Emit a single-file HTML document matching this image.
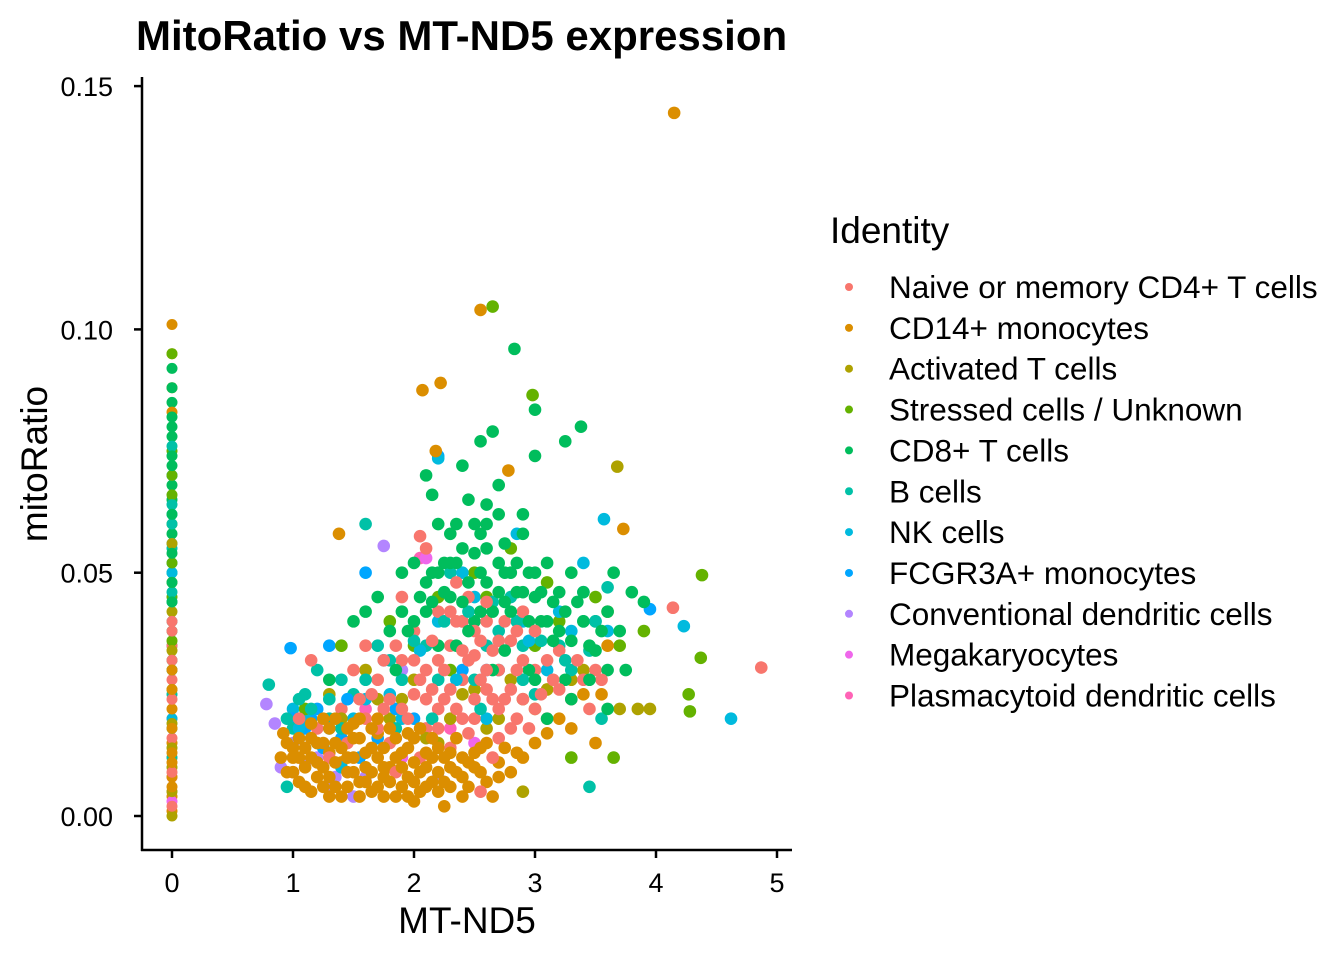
<!DOCTYPE html>
<html><head><meta charset="utf-8"><style>
body{margin:0;background:#fff;}
svg{display:block;font-family:"Liberation Sans",Arial,sans-serif;}
</style></head><body>
<svg id="chart" width="1344" height="960"></svg>
<script>
const categories=["Naive or memory CD4+ T cells","CD14+ monocytes","Activated T cells","Stressed cells / Unknown","CD8+ T cells","B cells","NK cells","FCGR3A+ monocytes","Conventional dendritic cells","Megakaryocytes","Plasmacytoid dendritic cells"];
const colors=["#F8766D","#DB8E00","#AEA200","#64B200","#00BD5C","#00C1A7","#00BADE","#00A6FF","#B385FF","#EF67EB","#FF63B6"];
const xTicks=[0,1,2,3,4,5];
const yTicks=[0,0.05,0.10,0.15];
const yTickLabels=["0.00","0.05","0.10","0.15"];
const naive=[[0,0.012],[0,0.02],[0,0.028],[0,0.005],[0,0.035],[0,0.016],[0,0.002],[0,0.009],[0,0.024],[0,0.032],[0,0.038],[0,0.04],[1.2,0.018],[1.4,0.022],[1.6,0.02],[1.7,0.028],[1.8,0.015],[1.9,0.032],[2.0,0.025],[2.0,0.038],[2.1,0.018],[2.1,0.03],[2.2,0.042],[2.2,0.022],[2.3,0.035],[2.3,0.014],[2.4,0.028],[2.4,0.04],[2.5,0.02],[2.5,0.033],[2.6,0.026],[2.6,0.04],[2.7,0.03],[2.7,0.016],[2.8,0.036],[2.9,0.024],[3.0,0.03],[3.1,0.02],[3.2,0.034],[3.4,0.028],[3.5,0.03],[1.5,0.03],[1.9,0.045],[2.1,0.055],[2.05,0.0575],[2.55,0.005],[4.14,0.0428],[4.87,0.0305],[1.15,0.032],[2.35,0.048],[2.9,0.042],[1.85,0.009],[1.3,0.012],[1.6,0.035],[1.75,0.022],[1.95,0.02],[2.05,0.012],[2.15,0.026],[2.25,0.03],[2.35,0.022],[2.45,0.017],[2.55,0.036],[2.65,0.012],[2.75,0.024],[2.85,0.03],[2.95,0.018],[3.05,0.025],[3.3,0.024],[1.45,0.015],[1.05,0.02],[2.45,0.045],[2.75,0.04],[1.65,0.025],[1.85,0.035],[2.15,0.036],[2.55,0.028],[2.85,0.02],[3.15,0.028],[2.35,0.04],[2.65,0.034],[1.7,0.018],[1.8,0.024],[1.9,0.022],[2.0,0.032],[2.1,0.024],[2.2,0.018],[2.2,0.032],[2.3,0.026],[2.4,0.02],[2.4,0.034],[2.5,0.024],[2.5,0.038],[2.6,0.03],[2.7,0.022],[2.7,0.036],[2.8,0.026],[2.8,0.018],[2.9,0.032],[3.0,0.022],[3.0,0.038],[3.1,0.032],[3.2,0.026],[2.05,0.028],[2.25,0.024],[2.45,0.032],[2.65,0.024],[2.85,0.038],[1.55,0.024],[1.75,0.032],[2.3,0.042],[2.6,0.044],[3.35,0.032],[3.45,0.022],[3.55,0.028]];
const cd14=[[0,0.001],[0,0.004],[0,0.008],[0,0.015],[0,0.022],[0,0.088],[0,0.095],[0,0.101],[0,0.083],[0,0.006],[0,0.011],[0,0.013],[0,0.018],[0,0.026],[0,0.03],[0.95,0.015],[1.0,0.012],[1.1,0.01],[1.15,0.016],[1.2,0.008],[1.3,0.013],[1.35,0.006],[1.4,0.011],[1.5,0.009],[1.55,0.016],[1.6,0.007],[1.7,0.012],[1.75,0.004],[1.8,0.01],[1.9,0.006],[1.95,0.014],[2.0,0.003],[2.05,0.009],[2.15,0.012],[2.2,0.005],[2.25,0.002],[2.3,0.01],[2.4,0.008],[2.5,0.013],[2.6,0.007],[2.7,0.011],[2.8,0.009],[3.0,0.015],[3.2,0.02],[3.4,0.025],[3.6,0.035],[3.73,0.059],[1.38,0.058],[2.07,0.0875],[2.22,0.089],[2.55,0.104],[4.15,0.1445],[2.78,0.071],[2.18,0.075],[1.25,0.02],[1.45,0.018],[1.65,0.014],[2.35,0.016],[2.65,0.004],[1.05,0.007],[3.3,0.018],[1.1,0.014],[1.3,0.018],[1.5,0.012],[1.7,0.017],[1.85,0.012],[2.0,0.016],[2.1,0.006],[2.3,0.006],[2.45,0.011],[2.55,0.009],[2.75,0.014],[2.9,0.012],[3.1,0.017],[1.25,0.006],[0.9,0.012],[1.0,0.009],[1.15,0.005],[1.35,0.015],[1.45,0.006],[1.55,0.02],[1.6,0.01],[1.75,0.008],[1.8,0.018],[1.9,0.01],[2.0,0.007],[2.1,0.013],[2.2,0.009],[2.4,0.004],[2.6,0.015],[1.4,0.004],[1.65,0.005],[1.95,0.004],[2.25,0.012],[1.2,0.011],[1.05,0.016],[3.5,0.015],[3.55,0.025],[0.95,0.009],[1.05,0.012],[1.1,0.006],[1.15,0.012],[1.2,0.015],[1.25,0.01],[1.3,0.008],[1.35,0.011],[1.4,0.014],[1.45,0.009],[1.5,0.016],[1.55,0.007],[1.6,0.013],[1.65,0.009],[1.7,0.006],[1.75,0.014],[1.8,0.007],[1.85,0.016],[1.9,0.013],[1.95,0.008],[2.0,0.011],[2.05,0.005],[2.1,0.01],[2.15,0.007],[2.2,0.014],[2.25,0.007],[2.3,0.013],[2.35,0.009],[2.4,0.012],[2.45,0.006],[2.5,0.01],[2.55,0.014],[2.7,0.008],[2.85,0.013],[1.15,0.019],[1.35,0.02],[1.5,0.019],[1.7,0.02],[1.25,0.015],[1.45,0.012],[1.65,0.018],[1.55,0.004],[1.85,0.004],[2.05,0.018],[1.0,0.014],[0.92,0.017],[1.3,0.004],[1.75,0.01],[2.15,0.016],[1.95,0.017]];
const activated=[[0,0.01],[0,0.03],[0,0.0],[0,0.042],[0,0.005],[0,0.014],[0,0.019],[0,0.034],[0,0.048],[0,0.056],[1.3,0.025],[1.8,0.02],[2.2,0.015],[2.6,0.018],[3.0,0.022],[3.4,0.03],[3.7,0.022],[3.85,0.022],[3.95,0.022],[3.68,0.0718],[2.9,0.005],[1.6,0.03],[2.4,0.025],[3.6,0.042],[2.0,0.028],[2.8,0.028],[1.4,0.02],[1.9,0.024],[2.3,0.02],[2.5,0.026],[2.7,0.02],[2.9,0.024],[3.1,0.026],[3.3,0.028],[2.1,0.016],[1.7,0.024]];
const stressed=[[0,0.045],[0,0.06],[0,0.075],[0,0.026],[0,0.036],[0,0.052],[0,0.066],[0,0.07],[0,0.095],[1.4,0.035],[1.8,0.04],[2.2,0.045],[2.5,0.05],[2.65,0.1047],[2.98,0.0865],[3.2,0.04],[3.5,0.045],[3.7,0.035],[4.38,0.0495],[4.37,0.0325],[4.27,0.025],[4.28,0.0215],[2.8,0.055],[3.0,0.035],[2.3,0.03],[1.1,0.022],[3.9,0.038],[2.0,0.035],[3.3,0.012],[3.65,0.012],[2.6,0.045],[3.1,0.048]];
const cd8=[[0,0.05],[0,0.065],[0,0.078],[0,0.085],[0,0.058],[0,0.068],[0,0.032],[0,0.038],[0,0.044],[0,0.048],[0,0.054],[0,0.062],[0,0.072],[0,0.074],[0,0.08],[0,0.082],[0,0.088],[0,0.092],[1.7,0.045],[1.9,0.05],[2.0,0.04],[2.1,0.048],[2.2,0.06],[2.25,0.052],[2.3,0.045],[2.4,0.055],[2.45,0.065],[2.5,0.04],[2.55,0.058],[2.6,0.048],[2.7,0.062],[2.75,0.044],[2.8,0.05],[2.83,0.096],[2.9,0.058],[3.0,0.0835],[3.0,0.045],[3.1,0.052],[3.2,0.046],[3.3,0.05],[3.38,0.08],[3.5,0.04],[3.7,0.038],[2.35,0.035],[2.65,0.03],[2.95,0.03],[3.25,0.028],[1.5,0.04],[1.3,0.028],[2.15,0.066],[2.55,0.077],[2.65,0.079],[3.0,0.074],[3.25,0.077],[2.1,0.07],[2.4,0.072],[3.1,0.02],[2.7,0.068],[1.95,0.038],[2.05,0.045],[2.3,0.058],[2.45,0.048],[2.55,0.042],[2.7,0.052],[2.85,0.046],[2.95,0.05],[3.05,0.04],[3.15,0.036],[3.35,0.044],[3.45,0.035],[3.6,0.03],[3.75,0.03],[2.2,0.035],[2.6,0.055],[1.6,0.042],[2.35,0.052],[2.5,0.06],[2.75,0.056],[3.4,0.046],[2.15,0.05],[1.85,0.03],[2.0,0.052],[2.1,0.042],[2.2,0.05],[2.25,0.046],[2.3,0.052],[2.35,0.06],[2.4,0.044],[2.5,0.054],[2.55,0.05],[2.6,0.06],[2.65,0.042],[2.7,0.046],[2.75,0.05],[2.8,0.042],[2.85,0.052],[2.9,0.046],[2.95,0.04],[3.0,0.05],[3.05,0.046],[3.1,0.04],[3.15,0.044],[3.2,0.038],[3.25,0.042],[3.3,0.036],[3.4,0.04],[3.5,0.034],[3.55,0.038],[3.6,0.042],[2.45,0.038],[2.15,0.044],[1.8,0.038],[1.9,0.042],[2.75,0.034],[3.0,0.028],[3.3,0.024],[3.45,0.028],[3.6,0.022],[2.6,0.064],[2.9,0.062],[3.65,0.05],[3.8,0.046],[3.9,0.044]];
const bcells=[[0,0.04],[0,0.055],[0,0.07],[0,0.025],[0,0.012],[0,0.018],[0,0.03],[0,0.046],[0,0.06],[0,0.064],[0,0.076],[0.8,0.027],[0.95,0.02],[1.1,0.025],[1.3,0.02],[1.5,0.025],[1.6,0.06],[1.7,0.035],[1.9,0.028],[2.1,0.035],[2.3,0.05],[2.4,0.04],[2.6,0.035],[2.8,0.045],[3.0,0.025],[3.2,0.035],[3.4,0.04],[3.45,0.006],[0.95,0.006],[2.5,0.028],[2.9,0.035],[1.2,0.03],[3.6,0.047],[1.0,0.018],[1.4,0.028],[1.85,0.018],[2.2,0.028],[2.7,0.038],[3.3,0.03],[1.15,0.022],[1.3,0.024],[1.6,0.028],[1.8,0.032],[2.0,0.036],[2.25,0.04],[2.45,0.042],[2.65,0.044],[2.85,0.04],[3.05,0.036],[3.25,0.032],[3.45,0.034],[3.55,0.02],[2.15,0.02],[2.55,0.022],[1.4,0.018],[1.05,0.024],[2.9,0.028],[3.5,0.04]];
const nk=[[0,0.05],[0,0.035],[0,0.062],[0,0.02],[0,0.044],[0,0.056],[0,0.07],[1.0,0.022],[1.2,0.015],[1.5,0.02],[1.8,0.025],[2.2,0.04],[2.5,0.045],[2.9,0.04],[3.1,0.03],[3.3,0.038],[3.57,0.061],[4.23,0.039],[4.62,0.02],[2.85,0.058],[2.2,0.0735],[3.4,0.052],[2.6,0.02],[1.4,0.01],[1.1,0.02],[1.3,0.018],[1.6,0.024],[1.9,0.02],[2.05,0.034],[2.35,0.028],[2.7,0.03],[2.95,0.036],[3.2,0.042],[3.4,0.046],[3.6,0.038],[2.4,0.05],[1.05,0.018]];
const fcgr=[[0,0.052],[0.98,0.0345],[1.3,0.035],[1.6,0.05],[1.75,0.032],[2.2,0.074],[2.4,0.03],[3.95,0.0425],[1.1,0.018],[2.0,0.02],[1.55,0.012],[1.0,0.02],[1.2,0.022],[1.05,0.016],[1.15,0.02],[1.25,0.014],[1.4,0.016],[1.7,0.016],[1.85,0.022],[2.6,0.03],[1.45,0.024]];
const cdc=[[0.78,0.023],[0.9,0.01],[1.0,0.015],[1.2,0.012],[1.75,0.0555],[1.5,0.004],[1.9,0.03],[0.85,0.019],[1.35,0.008],[1.0,0.009],[1.1,0.011],[1.3,0.006],[1.6,0.008],[2.2,0.008]];
const mega=[[0,0.008],[0,0.003],[2.1,0.053],[1.9,0.012],[2.5,0.015]];
const pdc=[[2.05,0.053],[1.6,0.022],[2.3,0.018]];
const series=[naive,cd14,activated,stressed,cd8,bcells,nk,fcgr,cdc,mega,pdc];

const NS="http://www.w3.org/2000/svg";
const svg=document.getElementById('chart');
const xs=v=>172+v*121;
const ys=v=>816-v*4866;
function mk(tag,attrs,parent){const e=document.createElementNS(NS,tag);for(const k in attrs)e.setAttribute(k,attrs[k]);(parent||svg).appendChild(e);return e;}

const title=mk('text',{x:136,y:50,'font-size':42,'font-weight':'bold',fill:'#000'});


title.textContent='MitoRatio vs MT-ND5 expression';

const pts=mk('g',{});


const maxLen=Math.max(...series.map(s=>s.length));
for(let i=0;i<maxLen;i++){series.forEach((s,ci)=>{if(i<s.length){const c=mk('circle',{cx:xs(s[i][0]),cy:ys(s[i][1]),r:(s[i][0]===0?5.5:6.3),fill:colors[ci]},pts);

}});}

const ax=mk('g',{stroke:'#000','stroke-width':2.5});


mk('line',{x1:142,y1:77,x2:142,y2:851},ax);
mk('line',{x1:141,y1:850,x2:792,y2:850},ax);
xTicks.forEach(t=>{mk('line',{x1:xs(t),y1:850,x2:xs(t),y2:858},ax);
const l=mk('text',{x:xs(t),y:892,'font-size':27,'text-anchor':'middle',fill:'#000',stroke:'none'});


l.textContent=t;});
yTicks.forEach((t,i)=>{mk('line',{x1:134,y1:ys(t),x2:142,y2:ys(t)},ax);
const l=mk('text',{x:113,y:ys(t)+10,'font-size':27,'text-anchor':'end',fill:'#000',stroke:'none'});


l.textContent=yTickLabels[i];});
const xt=mk('text',{x:467,y:933,'font-size':37,'text-anchor':'middle',fill:'#000'});


xt.textContent='MT-ND5';
const yt=mk('text',{x:47,y:464,'font-size':37,'text-anchor':'middle',fill:'#000',transform:'rotate(-90 47 464)'});


yt.textContent='mitoRatio';

const lg=mk('g',{});


const lt=mk('text',{x:830,y:243,'font-size':37,fill:'#000'},lg);


lt.textContent='Identity';
categories.forEach((c,i)=>{const y=287+i*40.85;
const g=mk('g',{},lg);


mk('circle',{cx:849,cy:y,r:4,fill:colors[i]},g);
const t=mk('text',{x:889,y:y+11,'font-size':31.5,fill:'#000'},g);
t.textContent=c;});
</script>
</body></html>
